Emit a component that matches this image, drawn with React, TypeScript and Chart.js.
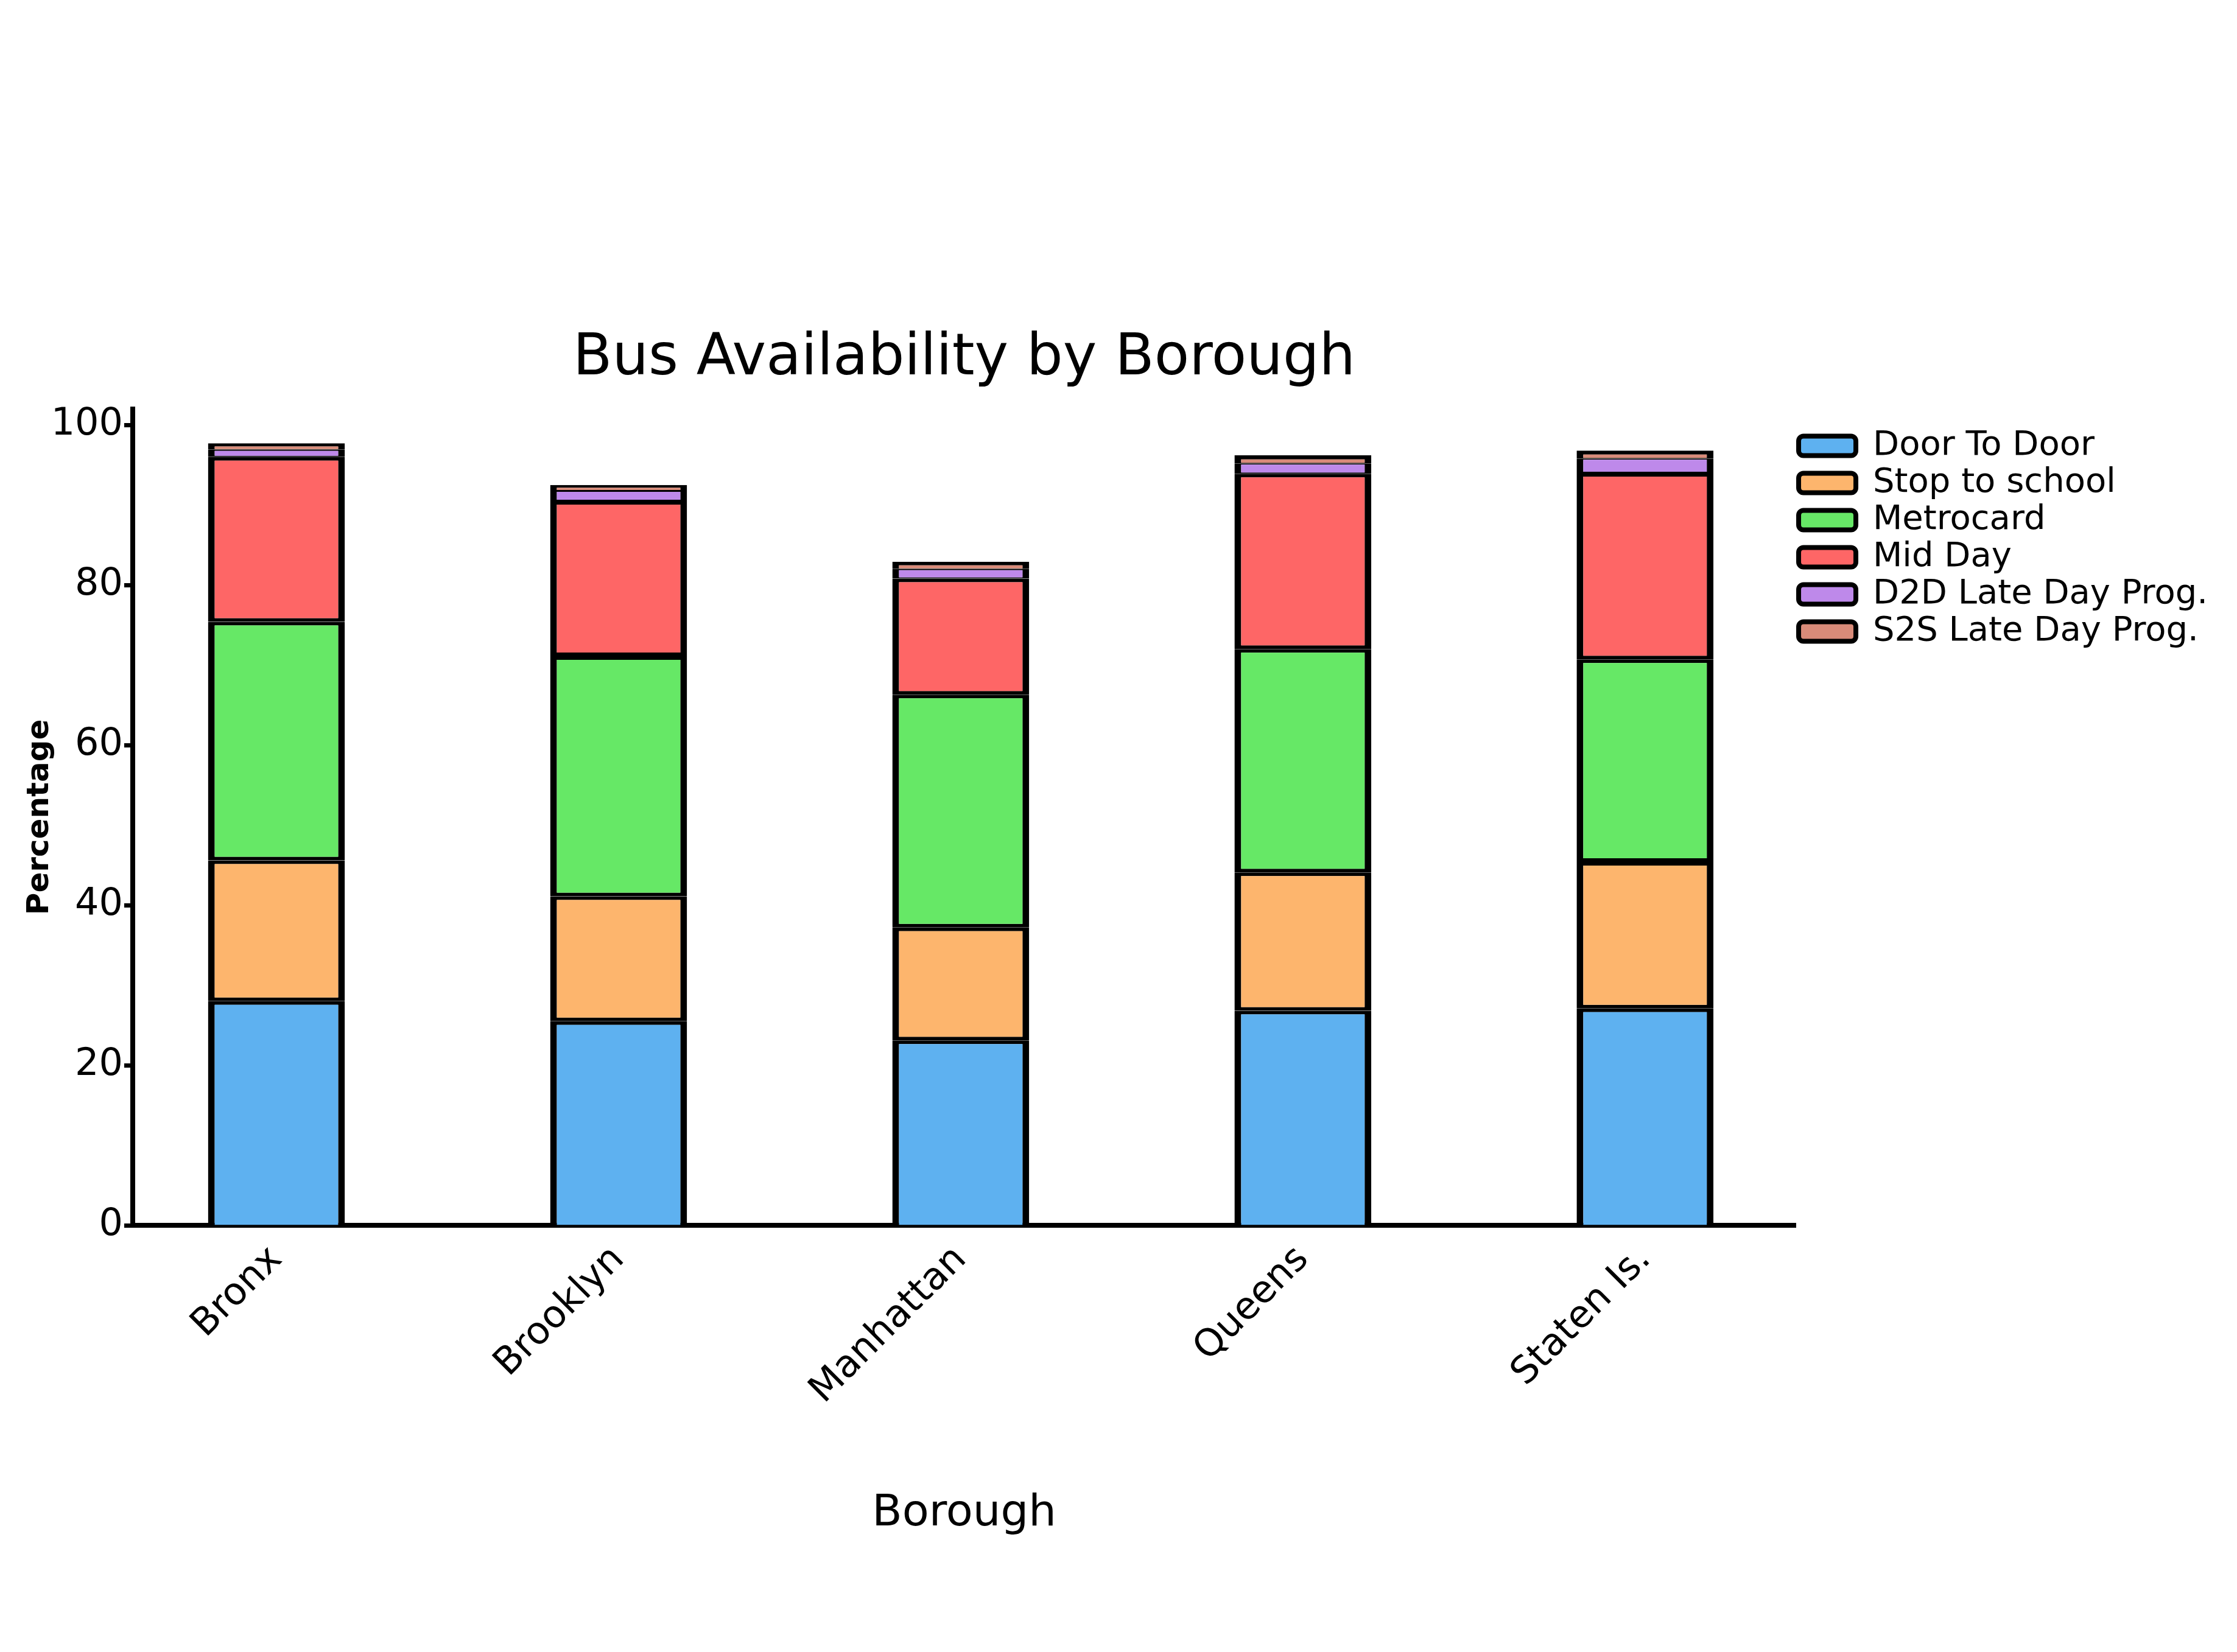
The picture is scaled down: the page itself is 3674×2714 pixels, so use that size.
import React, { useEffect, useRef } from "react";
import Chart from "chart.js/auto";

// data
const boroughs = ["Bronx", "Brooklyn", "Manhattan", "Queens", "Staten Is."];
const seriesNames = [
  "Door To Door",
  "Stop to school",
  "Metrocard",
  "Mid Day",
  "D2D Late Day Prog.",
  "S2S Late Day Prog.",
];
const doorToDoor = [28.0, 25.5, 23.1, 26.8, 27.1];
const stopToSchool = [17.6, 15.6, 14.1, 17.3, 18.3];
const metrocard = [29.8, 30.0, 29.1, 27.9, 25.3];
const midDay = [20.6, 19.4, 14.5, 21.9, 23.3];
const d2dLateDay = [0.9, 1.3, 1.2, 1.3, 1.8];
const s2sLateDay = [0.8, 0.7, 0.9, 1.0, 1.0];
const yTicks = [0, 20, 40, 60, 80, 100];

const colors = ["#5eb1f0", "#fdb56d", "#66e866", "#fe6666", "#be89ea", "#d98b79"];
const borderWidths = [
  { top: 6, bottom: 0, left: 11, right: 11 },
  { top: 6, bottom: 6, left: 11, right: 11 },
  { top: 6, bottom: 6, left: 11, right: 11 },
  { top: 6, bottom: 6, left: 11, right: 11 },
  { top: 2, bottom: 2, left: 11, right: 11 },
  { top: 9, bottom: 1, left: 11, right: 11 },
];

const FONT = "'DejaVu Sans', sans-serif";

const App = () => {
  const canvasRef = useRef<HTMLCanvasElement>(null);
  const chartRef = useRef<any>(null);

  useEffect(() => {
    if (!canvasRef.current) return;
    const ctx: any = canvasRef.current.getContext("2d");
    if (chartRef.current) chartRef.current.destroy();

    const series = [doorToDoor, stopToSchool, metrocard, midDay, d2dLateDay, s2sLateDay];

    chartRef.current = new Chart(ctx, {
      type: "bar",
      data: {
        datasets: series.map((values, s) => ({
          label: seriesNames[s],
          data: values.map((v, i) => ({ x: i, y: v })),
          backgroundColor: colors[s],
          borderColor: "#000",
          borderWidth: borderWidths[s],
          borderSkipped: false,
          barPercentage: 0.4,
          categoryPercentage: 1,
        })),
      },
      options: {
        animation: false,
        responsive: true,
        maintainAspectRatio: false,
        layout: { padding: { left: 0, right: 30, top: 0, bottom: 0 } },
        plugins: {
          title: {
            display: true,
            text: "Bus Availability by Borough",
            color: "#000",
            fullSize: false,
            font: { family: FONT, size: 94, weight: "normal" },
            padding: { top: 526, bottom: 25 },
          },
          legend: {
            position: "right",
            align: "start",
            fullSize: false,
            title: { display: true, text: "", padding: 0, font: { size: 23 } },
            labels: {
              color: "#000",
              boxWidth: 94,
              boxHeight: 32,
              padding: 5,
              useBorderRadius: true,
              borderRadius: 8,
              font: { family: FONT, size: 56 },
              generateLabels: (chart: any) =>
                Chart.defaults.plugins.legend.labels
                  .generateLabels(chart)
                  .map((item: any) => ({ ...item, lineWidth: 8, strokeStyle: "#000" })),
            },
          },
          tooltip: { enabled: false },
        },
        scales: {
          x: {
            type: "linear",
            min: -0.42,
            max: 4.44,
            offset: false,
            stacked: true,
            afterBuildTicks: (scale: any) => {
              scale.ticks = boroughs.map((_, i) => ({ value: i }));
            },
            afterFit: (scale: any) => {
              scale.height = 693;
            },
            grid: { display: false, drawTicks: false, offset: false },
            border: { color: "#000", width: 8 },
            ticks: {
              autoSkip: false,
              minRotation: 45,
              maxRotation: 45,
              padding: 20,
              color: "#000",
              font: { family: FONT, size: 62 },
              callback: (value: any) => boroughs[value] ?? "",
            },
            title: {
              display: true,
              text: "Borough",
              color: "#000",
              font: { family: FONT, size: 72 },
              padding: { top: 0, bottom: 176 },
            },
          },
          y: {
            min: 0,
            max: 102,
            stacked: true,
            afterBuildTicks: (scale: any) => {
              scale.ticks = yTicks.map((v) => ({ value: v }));
            },
            afterFit: (scale: any) => {
              scale.width = 210;
            },
            grid: {
              drawOnChartArea: false,
              drawTicks: true,
              tickLength: 14,
              tickWidth: 7,
              tickColor: "#000",
            },
            border: { color: "#000", width: 8 },
            ticks: {
              padding: 2,
              color: "#000",
              font: { family: FONT, size: 62 },
            },
            title: {
              display: true,
              text: "Percentage",
              color: "#000",
              font: { family: FONT, size: 50, weight: "bold" },
              padding: { top: 28, bottom: 0 },
            },
          },
        },
      },
    });

    return () => {
      if (chartRef.current) {
        chartRef.current.destroy();
        chartRef.current = null;
      }
    };
  }, []);

  return (
    <div style={{ position: "relative", width: "3658px", height: "2698px" }}>
      <canvas ref={canvasRef} />
    </div>
  );
};

export default App;
